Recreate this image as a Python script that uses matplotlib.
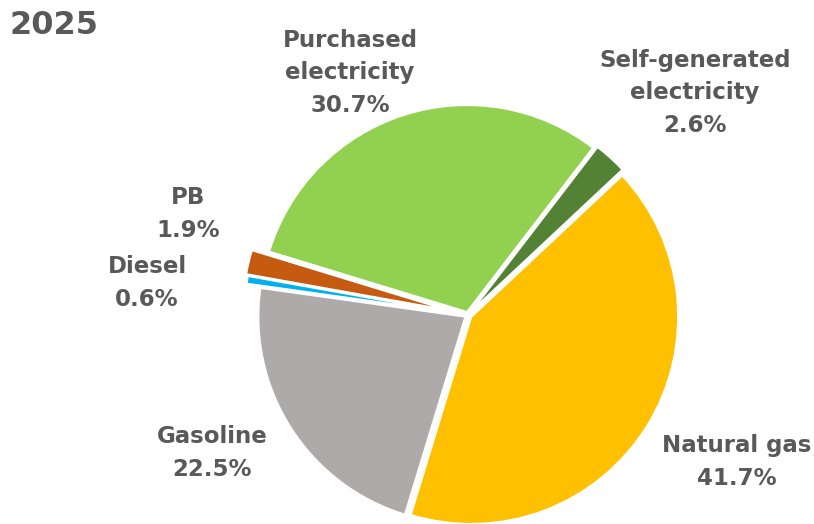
import matplotlib.pyplot as plt

# Datos del gráfico (orden horario desde arriba a la derecha)
categorias = ["Self-generated\nelectricity", "Natural gas", "Gasoline",
              "Diesel", "PB", "Purchased\nelectricity"]
valores = [2.6, 41.7, 22.5, 0.6, 1.9, 30.7]
colores = ["#548235", "#FFC000", "#AEAAAA", "#00B0F0", "#C55A11", "#92D050"]
separacion = [0.025, 0.018, 0.015, 0.08, 0.09, 0.015]
titulo = "2025"

gris = "#595959"

fig = plt.figure(figsize=(8.14, 5.24), dpi=100)
cx, cy, r = 468, 315, 207
ax = fig.add_axes([(cx - r) / 814, (524 - cy - r) / 524, 2 * r / 814, 2 * r / 524])

ax.pie(valores, colors=colores, explode=separacion, startangle=52.5,
       counterclock=False, wedgeprops=dict(edgecolor="white", linewidth=1.5),
       radius=1)
ax.set_xlim(-1, 1)
ax.set_ylim(-1, 1)
ax.set_aspect("equal")
ax.axis("off")

# Posiciones de las etiquetas en píxeles (x centro, y centro)
pos_etiquetas = [(695, 93), (737, 462), (212, 453), (147, 283), (188, 214), (350, 73)]

for cat, val, (px, py) in zip(categorias, valores, pos_etiquetas):
    fig.text(px / 814, 1 - py / 524, f"{cat}\n{val:.1f}%", ha="center", va="center",
             fontsize=16.5, fontweight="bold", color=gris, linespacing=1.55,
             family="DejaVu Sans")

fig.text(10 / 814, 1 - 25 / 524, titulo, ha="left", va="center", fontsize=23,
         fontweight="bold", color=gris, family="DejaVu Sans")

fig.savefig("out.png", dpi=100)
